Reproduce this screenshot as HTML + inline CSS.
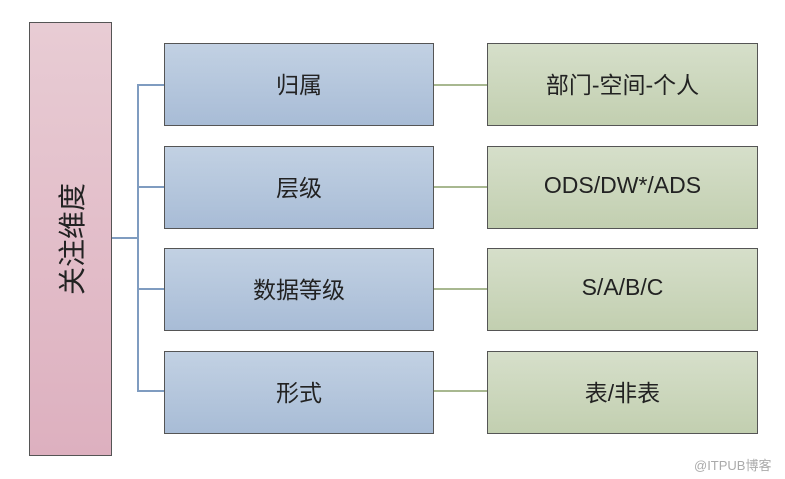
<!DOCTYPE html>
<html><head><meta charset="utf-8"><style>
body{margin:0;width:785px;height:479px;background:#fff;position:relative;overflow:hidden;font-family:"Liberation Sans","Noto Sans CJK SC",sans-serif;}
.b{position:absolute;box-sizing:border-box;border:1px solid #555;display:flex;align-items:center;justify-content:center;font-size:23px;color:#222;padding-bottom:4px;}
.p{left:29px;top:22px;width:83px;height:434px;background:linear-gradient(#e8ccd4,#ddb0bf);padding-bottom:0;}
.bl{left:164px;width:270px;height:83px;background:linear-gradient(#c2d1e3,#a8bcd6);}
.g{left:487px;width:271px;height:83px;background:linear-gradient(#d6dfca,#c2cfb0);}
.l{position:absolute;background:#7f9cc0;}
.gl{position:absolute;background:#a8b890;height:2px;left:434px;width:53px;}
</style></head><body>
<div class="b p"><span style="transform:rotate(-90deg);white-space:nowrap;font-size:28px;">关注维度</span></div>
<div class="l" style="left:112px;top:237px;width:27px;height:2px"></div>
<div class="l" style="left:137px;top:84px;width:2px;height:308px"></div>
<div class="l" style="left:137px;top:84px;width:27px;height:2px"></div>
<div class="l" style="left:137px;top:186px;width:27px;height:2px"></div>
<div class="l" style="left:137px;top:288px;width:27px;height:2px"></div>
<div class="l" style="left:137px;top:390px;width:27px;height:2px"></div>
<div class="b bl" style="top:43px">归属</div>
<div class="b bl" style="top:146px">层级</div>
<div class="b bl" style="top:248px">数据等级</div>
<div class="b bl" style="top:351px">形式</div>
<div class="gl" style="top:84px"></div><div class="gl" style="top:186px"></div><div class="gl" style="top:288px"></div><div class="gl" style="top:390px"></div>
<div class="b g" style="top:43px">部门-空间-个人</div>
<div class="b g" style="top:146px">ODS/DW*/ADS</div>
<div class="b g" style="top:248px">S/A/B/C</div>
<div class="b g" style="top:351px">表/非表</div>
<div style="position:absolute;left:694px;top:455px;font-size:13px;color:#aaa;">@ITPUB博客</div>
</body></html>
